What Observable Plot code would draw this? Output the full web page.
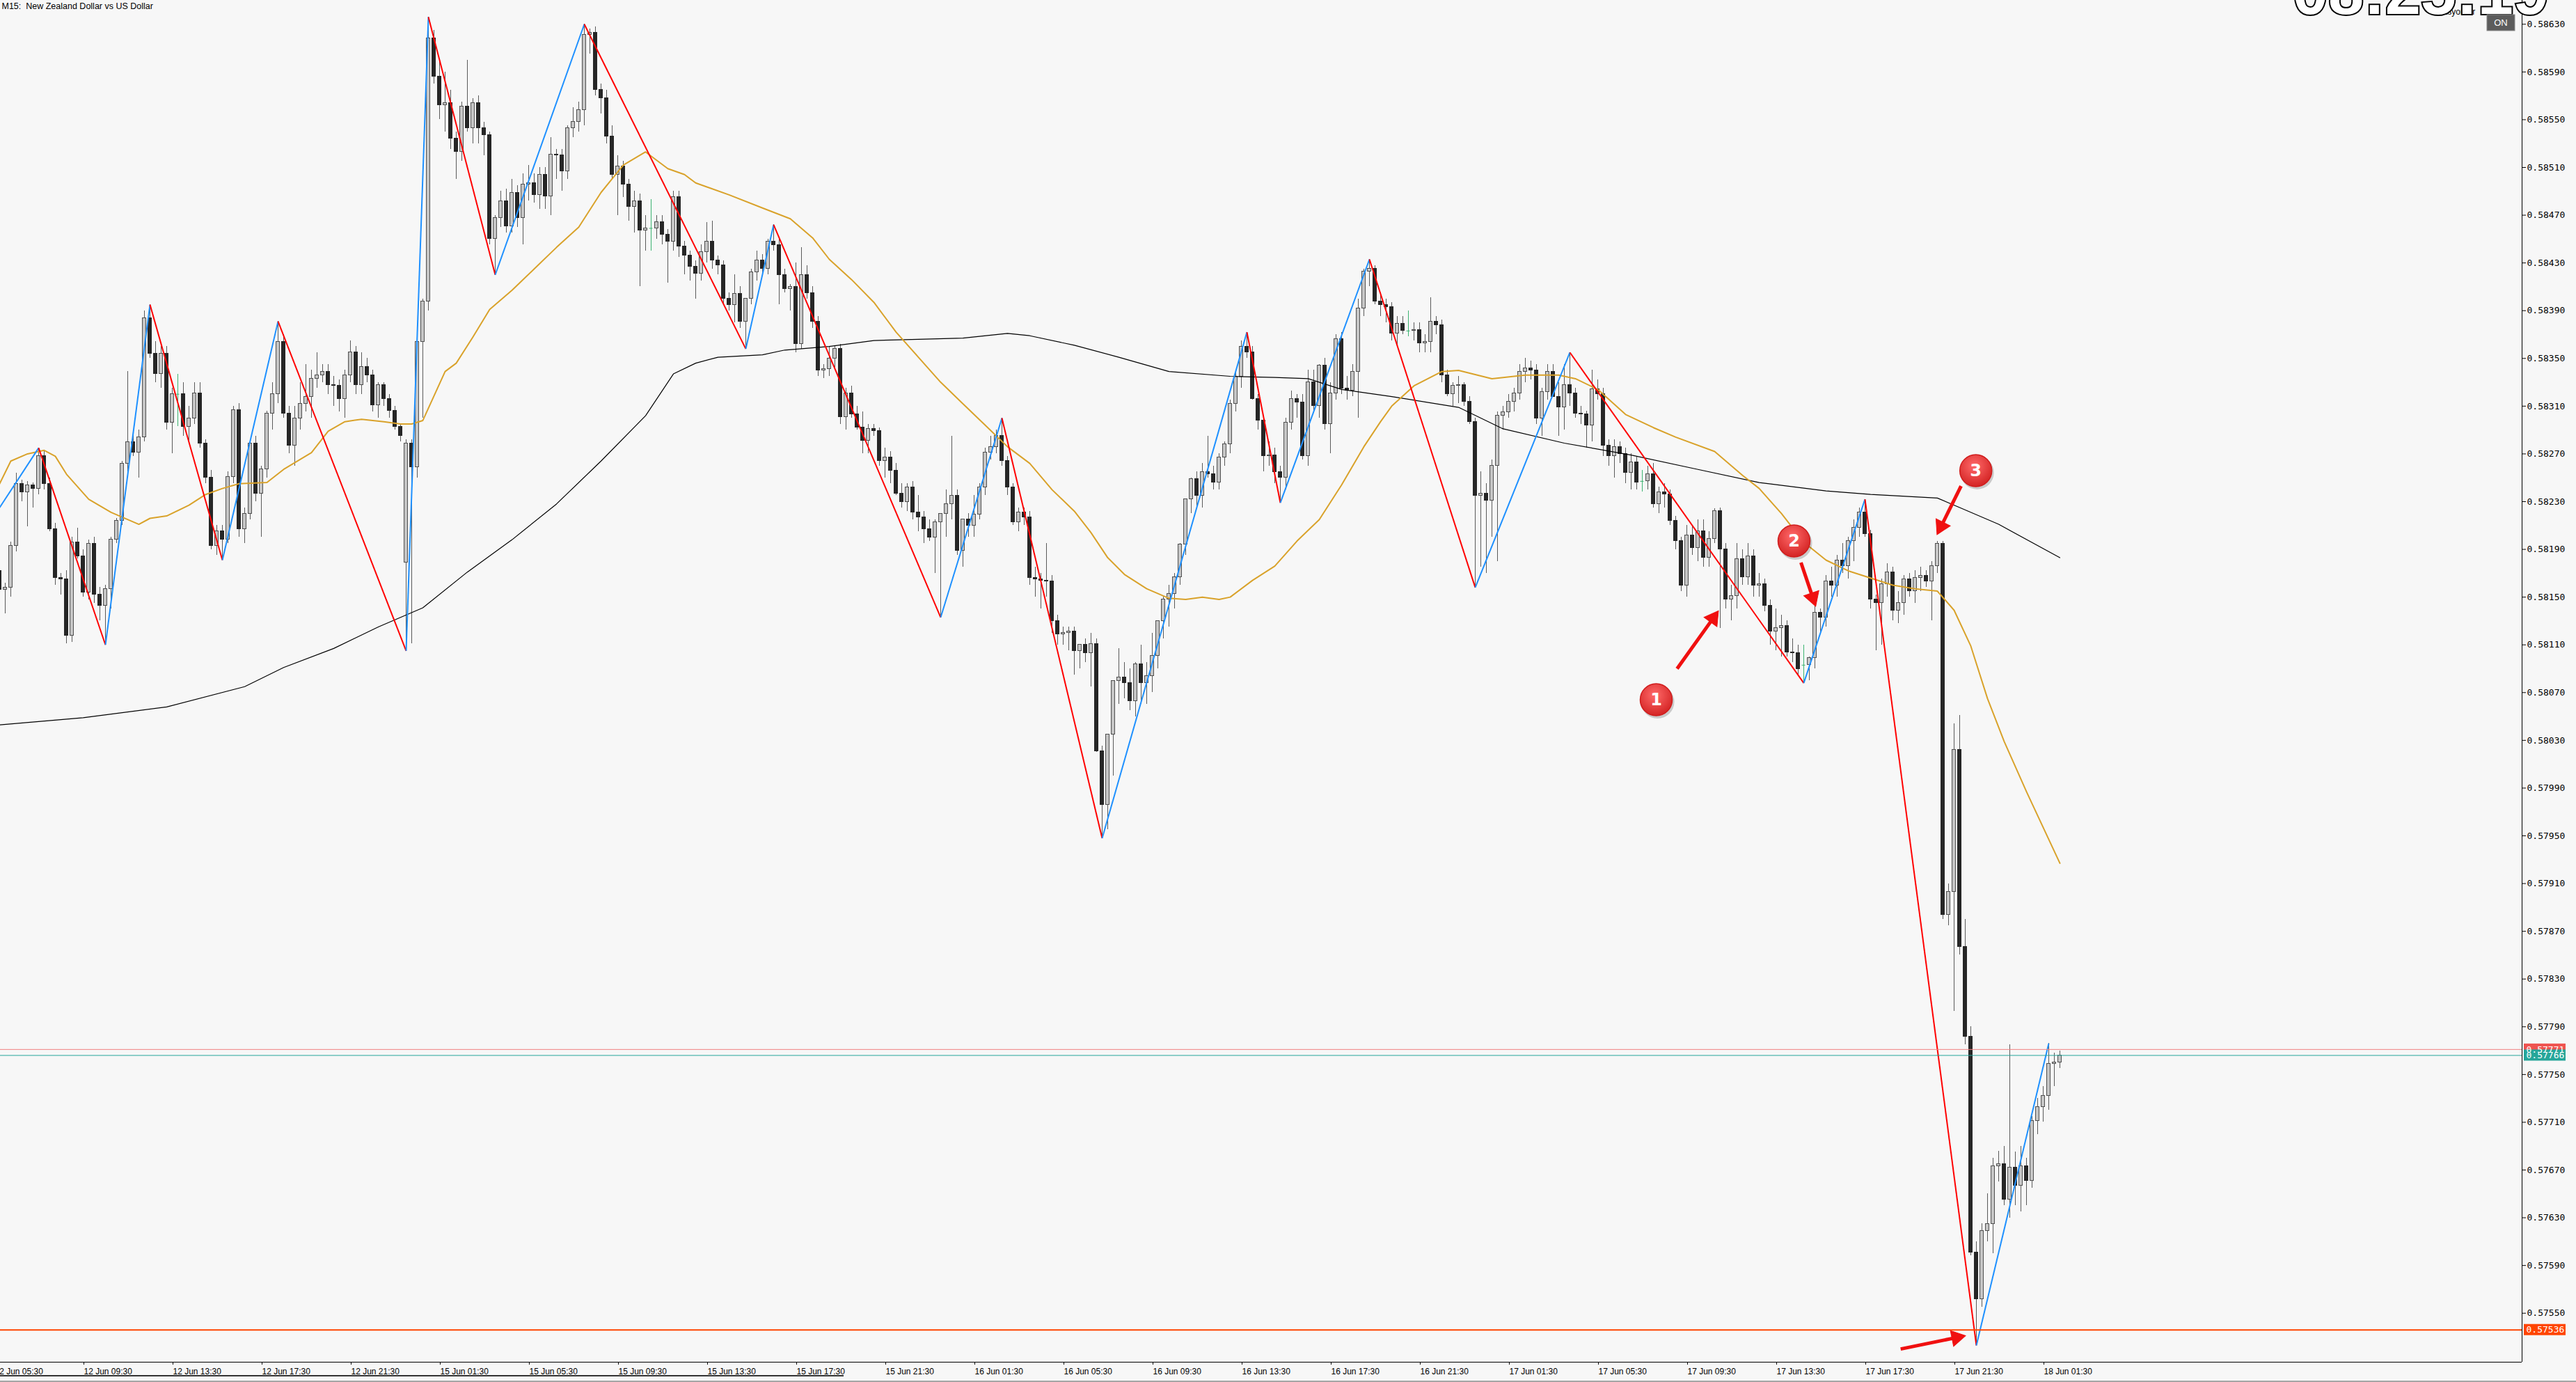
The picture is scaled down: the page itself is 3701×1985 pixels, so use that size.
<!DOCTYPE html>
<html><head><meta charset="utf-8">
<script src="https://cdn.jsdelivr.net/npm/d3@7"></script>
<script src="https://cdn.jsdelivr.net/npm/@observablehq/plot@0.6"></script>
<style>html,body{margin:0;padding:0;background:#f7f7f7;overflow:hidden}</style>
</head><body><div id="chart"></div>
<script>
const title = "M15:  New Zealand Dollar vs US Dollar";
// prices in points (1e-5), one entry per 15-minute bar, bar 0 = 12 Jun 05:45
const opens = [
58172,58156,58158,58193,58245,58238,58244,58241,58268,58245,
58207,58166,58165,58118,58196,58184,58154,58195,58152,58143,
58157,58198,58214,58262,58280,58271,58284,58384,58354,58337,
58354,58296,58320,58320,58293,58300,58321,58279,58250,58193,
58205,58198,58251,58307,58207,58220,58279,58237,58257,58304,
58320,58364,58304,58277,58300,58312,58318,58333,58336,58339,
58328,58327,58316,58336,58355,58328,58343,58336,58311,58328,
58316,58306,58293,58179,58279,58259,58364,58398,58618,58586,
58562,58564,58534,58523,58561,58543,58564,58543,58537,58450,
58468,58482,58461,58489,58468,58496,58497,58487,58504,58486,
58521,58520,58507,58543,58548,58558,58621,58623,58575,58568,
58536,58504,58511,58496,58477,58482,58457,58459,58459,58464,
58454,58448,58485,58444,58436,58427,58421,58439,58448,58432,
58428,58400,58395,58404,58381,58400,58422,58432,58425,58448,
58445,58420,58408,58410,58362,58420,58405,58381,58340,58341,
58350,58358,58301,58321,58303,58292,58281,58291,58289,58264,
58267,58256,58237,58230,58242,58221,58217,58207,58200,58213,
58220,58228,58235,58189,58215,58210,58219,58242,58271,58276,
58285,58264,58242,58213,58221,58217,58166,58165,58164,58163,
58130,58119,58120,58121,58105,58110,58103,58111,58021,57976,
58035,58080,58083,58078,58063,58094,58078,58084,58101,58130,
58148,58153,58167,58194,58232,58249,58235,58255,58253,58246,
58267,58278,58312,58335,58360,58355,58316,58298,58268,58269,
58255,58250,58296,58316,58313,58268,58330,58310,58344,58295,
58321,58366,58325,58323,58339,58392,58423,58425,58398,58395,
58393,58371,58379,58373,58373,58374,58363,58364,58381,58378,
58336,58320,58327,58328,58314,58297,58235,58237,58231,58260,
58302,58305,58314,58321,58339,58342,58340,58300,58322,58339,
58318,58309,58328,58321,58304,58303,58294,58324,58320,58277,
58268,58276,58270,58254,58263,58247,58247,58253,58228,58238,
58236,58214,58197,58160,58202,58191,58205,58183,58199,58222,
58190,58148,58151,58182,58167,58184,58160,58161,58143,58121,
58124,58126,58104,58103,58093,58093,58099,58137,58133,58163,
58160,58181,58176,58197,58208,58221,58203,58148,58145,58161,
58171,58139,58145,58165,58155,58166,58168,58163,58176,58195,
57884,57903,58022,57857,57782,57601,57562,57619,57625,57673,
57675,57645,57672,57657,57673,57661,57711,57723,57732,57759,
57760];
const highs = [
58178,58162,58196,58254,58248,58247,58246,58275,58272,58250,
58212,58170,58172,58200,58208,58190,58198,58200,58158,58160,
58200,58216,58264,58339,58290,58290,58390,58395,58364,58360,
58360,58325,58337,58330,58310,58330,58330,58282,58256,58210,
58210,58255,58310,58312,58225,58282,58285,58260,58306,58330,
58381,58370,58310,58310,58330,58345,58340,58355,58345,58345,
58335,58332,58340,58365,58360,58355,58350,58340,58330,58330,
58320,58310,58295,58282,58282,58368,58400,58636,58625,58600,
58590,58575,58540,58565,58600,58568,58570,58548,58540,58470,
58490,58492,58500,58495,58505,58512,58505,58510,58510,58535,
58525,58525,58545,58560,58565,58630,58626,58628,58580,58575,
58545,58520,58515,58500,58490,58488,58470,58483,58470,58470,
58458,58490,58490,58448,58440,58432,58445,58464,58465,58436,
58432,58405,58420,58410,58400,58425,58440,58437,58450,58462,
58450,58425,58412,58430,58443,58428,58410,58385,58345,58360,
58360,58362,58325,58327,58310,58305,58295,58295,58292,58275,
58272,58262,58245,58245,58247,58235,58222,58215,58215,58220,
58240,58285,58240,58215,58220,58235,58245,58275,58285,58290,
58300,58268,58245,58225,58225,58222,58175,58170,58195,58168,
58135,58125,58125,58125,58110,58115,58120,58115,58025,58035,
58080,58107,58095,58090,58095,58110,58095,58120,58130,58150,
58160,58170,58195,58232,58250,58255,58262,58285,58260,58270,
58280,58315,58340,58365,58372,58360,58320,58302,58280,58275,
58260,58300,58323,58320,58320,58340,58340,58345,58350,58330,
58370,58372,58335,58345,58400,58425,58433,58428,58405,58400,
58397,58385,58385,58390,58380,58380,58370,58401,58385,58382,
58340,58330,58335,58330,58318,58300,58255,58245,58265,58305,
58310,58320,58325,58345,58350,58348,58345,58325,58345,58345,
58330,58345,58355,58325,58310,58306,58340,58332,58325,58282,
58282,58280,58275,58270,58268,58256,58260,58262,58242,58245,
58240,58218,58200,58210,58210,58215,58215,58205,58224,58225,
58195,58160,58195,58190,58195,58190,58170,58165,58148,58140,
58135,58130,58115,58110,58110,58100,58143,58140,58168,58175,
58185,58195,58200,58215,58225,58232,58206,58152,58165,58178,
58175,58155,58168,58170,58172,58175,58172,58180,58197,58197,
57910,58044,58051,57880,57790,57610,57625,57650,57680,57686,
57690,57775,57685,57690,57680,57715,57730,57740,57776,57768,
57770];
const lows = [
58150,58136,58150,58188,58230,58209,58225,58236,58240,58205,
58160,58152,58111,58112,58182,58150,58148,58145,58130,58110,
58140,58195,58210,58255,58268,58250,58280,58350,58330,58325,
58290,58270,58293,58285,58280,58295,58275,58245,58190,58185,
58181,58195,58245,58200,58195,58215,58230,58200,58250,58290,
58312,58300,58270,58260,58290,58305,58300,58325,58330,58320,
58310,58305,58300,58330,58320,58320,58330,58305,58300,58310,
58300,58290,58280,58105,58111,58250,58300,58390,58580,58550,
58540,58525,58500,58515,58540,58530,58530,58520,58445,58420,
58460,58455,58455,58460,58445,58482,58480,58475,58475,58470,
58500,58490,58500,58535,58540,58545,58605,58570,58555,58530,
58500,58470,58485,58465,58455,58410,58440,58440,58450,58445,
58413,58440,58435,58420,58415,58400,58415,58430,58425,58420,
58395,58390,58380,58375,58358,58395,58415,58420,58420,58440,
58395,58405,58390,58355,58358,58400,58375,58335,58333,58335,
58340,58295,58290,58300,58290,58270,58270,58285,58260,58250,
58245,58235,58225,58222,58215,58205,58195,58197,58170,58133,
58200,58215,58185,58175,58200,58200,58215,58235,58265,58270,
58260,58235,58210,58205,58210,58160,58150,58140,58150,58120,
58110,58110,58105,58085,58090,58095,58075,58020,57948,57955,
58000,58060,58065,58055,58050,58060,58060,58070,58090,58115,
58125,58140,58160,58185,58220,58225,58225,58250,58240,58240,
58260,58270,58305,58325,58350,58315,58290,58255,58260,58245,
58229,58240,58290,58300,58265,58260,58305,58300,58290,58270,
58315,58320,58315,58318,58300,58385,58410,58395,58385,58380,
58365,58360,58370,58368,58365,58355,58355,58355,58370,58330,
58318,58310,58312,58310,58295,58158,58175,58170,58200,58180,
58290,58300,58305,58315,58330,58332,58295,58285,58315,58318,
58285,58290,58310,58300,58295,58275,58280,58315,58268,58260,
58250,58262,58245,58240,58240,58238,58240,58225,58220,58225,
58210,58190,58155,58150,58185,58180,58175,58175,58195,58124,
58140,58130,58140,58160,58160,58150,58150,58138,58110,58105,
58100,58100,58095,58085,58078,58080,58090,58120,58125,58150,
58150,58170,58165,58180,58200,58200,58140,58105,58110,58150,
58130,58128,58135,58150,58145,58155,58158,58130,58170,57880,
57875,57803,57850,57775,57598,57523,57555,57610,57600,57660,
57640,57630,57640,57635,57640,57655,57700,57710,57720,57740,
57755];
const closes = [
58156,58158,58193,58245,58238,58244,58241,58268,58245,58207,
58166,58165,58118,58196,58184,58154,58195,58152,58143,58157,
58198,58214,58262,58280,58271,58284,58384,58354,58337,58354,
58296,58320,58320,58293,58300,58321,58279,58250,58193,58205,
58198,58251,58307,58207,58220,58279,58237,58257,58304,58320,
58364,58304,58277,58300,58312,58318,58333,58336,58339,58328,
58327,58316,58336,58355,58328,58343,58336,58311,58328,58316,
58306,58293,58285,58279,58259,58364,58398,58618,58586,58562,
58564,58534,58523,58561,58543,58564,58543,58537,58450,58468,
58482,58461,58489,58468,58496,58497,58487,58504,58486,58521,
58520,58507,58543,58548,58558,58621,58623,58575,58568,58536,
58504,58511,58496,58477,58482,58457,58459,58459,58464,58454,
58448,58485,58444,58436,58427,58421,58439,58448,58432,58428,
58400,58395,58404,58381,58400,58422,58432,58425,58448,58445,
58420,58408,58410,58362,58420,58405,58381,58340,58341,58350,
58358,58301,58321,58303,58292,58281,58291,58289,58264,58267,
58256,58237,58230,58242,58221,58217,58207,58200,58213,58220,
58228,58235,58189,58215,58210,58219,58242,58271,58276,58285,
58264,58242,58213,58221,58217,58166,58165,58164,58163,58130,
58119,58120,58121,58105,58110,58103,58111,58021,57976,58035,
58080,58083,58078,58063,58094,58078,58084,58101,58130,58148,
58153,58167,58194,58232,58249,58235,58255,58253,58246,58267,
58278,58312,58335,58360,58355,58316,58298,58268,58269,58255,
58250,58296,58316,58313,58268,58330,58310,58344,58295,58321,
58366,58325,58323,58339,58392,58423,58425,58398,58395,58393,
58371,58379,58373,58373,58374,58363,58364,58381,58378,58336,
58320,58327,58328,58314,58297,58235,58237,58231,58260,58302,
58305,58314,58321,58339,58342,58340,58300,58322,58339,58318,
58309,58328,58321,58304,58303,58294,58324,58320,58277,58268,
58276,58270,58254,58263,58246,58247,58253,58228,58238,58236,
58214,58197,58160,58202,58191,58205,58183,58199,58222,58190,
58148,58151,58182,58167,58184,58160,58161,58143,58121,58124,
58126,58104,58103,58090,58093,58099,58137,58133,58163,58160,
58181,58176,58197,58208,58221,58203,58148,58145,58161,58171,
58139,58145,58165,58155,58166,58168,58163,58176,58195,57884,
57903,58022,57857,57782,57601,57562,57619,57625,57673,57675,
57645,57672,57657,57673,57661,57711,57723,57732,57759,57760,
57766];

// Moving averages: bar index and value
const maFastBars = [0,2,5,8,10,12,16,20,25,27,30,34,37,40,43,48,51,56,59,62,65,69,72,74,76,80,82,85,88,92,96,100,104,108,112,116,120,123,125,131,137,142,146,149,153,157,161,165,169,173,177,181,185,189,193,196,199,202,206,210,213,216,219,221,225,229,233,237,241,245,248,250,254,259,262,268,274,280,283,287,292,297,301,308,313,316,320,324,328,332,336,340,344,348,351,354,357,360,364,370];
const maFastVals = [58245,58264,58270,58273,58268,58253,58232,58221,58211,58216,58218,58227,58236,58241,58245,58246,58257,58271,58289,58297,58299,58297,58295,58295,58298,58339,58346,58368,58391,58407,58425,58443,58460,58489,58512,58523,58509,58504,58497,58487,58476,58467,58451,58433,58416,58397,58372,58351,58330,58312,58294,58276,58262,58240,58222,58204,58183,58169,58157,58149,58148,58150,58148,58150,58164,58176,58197,58215,58244,58276,58297,58310,58327,58339,58340,58333,58336,58336,58333,58324,58303,58292,58284,58272,58252,58241,58220,58196,58181,58172,58166,58160,58157,58155,58139,58109,58065,58029,57987,57927];
const maSlowBars = [0,15,30,44,51,60,68,76,84,92,100,108,116,121,125,129,137,141,149,157,165,173,181,185,193,201,210,221,229,235,241,250,262,270,281,293,305,316,328,336,348,352,359,370];
const maSlowVals = [58043,58049,58058,58075,58091,58107,58125,58141,58171,58198,58228,58264,58302,58337,58346,58351,58353,58357,58360,58365,58366,58367,58371,58369,58361,58351,58339,58335,58334,58333,58324,58318,58309,58291,58279,58269,58257,58246,58239,58236,58233,58225,58211,58183];

// ZigZag pivots
const zigzagBars = [0,7,19,27,40,50,73,77,89,105,134,139,169,180,198,224,230,246,265,282,324,335,355,368];
const zigzagPrices = [58225,58275,58110,58395,58181,58381,58105,58636,58420,58630,58358,58462,58133,58300,57948,58372,58229,58433,58158,58355,58078,58232,57523,57776];

// Axis ticks
const yTicks = [0.57550,0.57590,0.57630,0.57670,0.57710,0.57750,0.57790,0.57830,0.57870,0.57910,0.57950,0.57990,0.58030,0.58070,0.58110,0.58150,0.58190,0.58230,0.58270,0.58310,0.58350,0.58390,0.58430,0.58470,0.58510,0.58550,0.58590,0.58630];
const xTickBars = [-1,15,31,47,63,79,95,111,127,143,159,175,191,207,223,239,255,271,287,303,319,335,351,367];
const xTickLabels = ["12 Jun 05:30","12 Jun 09:30","12 Jun 13:30","12 Jun 17:30","12 Jun 21:30","15 Jun 01:30","15 Jun 05:30","15 Jun 09:30","15 Jun 13:30","15 Jun 17:30","15 Jun 21:30","16 Jun 01:30","16 Jun 05:30","16 Jun 09:30","16 Jun 13:30","16 Jun 17:30","16 Jun 21:30","17 Jun 01:30","17 Jun 05:30","17 Jun 09:30","17 Jun 13:30","17 Jun 17:30","17 Jun 21:30","18 Jun 01:30"];

// Price lines (ask, bid, marked low)
const lineNames = ["ask","bid","low"];
const linePrices = [57771,57766,57536];
const lineColors = ["#f08080","#26a69a","#ff4500"];
const lineLabelColors = ["#ef5350","#26a69a","#ff4500"];
const lineWidths = [1,1,2];

// Annotations: numbered markers and arrows (bar index, price)
const markerLabels = ["1","2","3"];
const markerBars = [297.5,322.25,354.9];
const markerPrices = [58064,58197,58256];
const arrowFromBars = [301.25,323.5,352.25,341.4];
const arrowFromPrices = [58090,58179,58243,57520];
const arrowToBars = [308.6,326.1,348,352.9];
const arrowToPrices = [58138,58143,58203,57531];

const P = 1e5;
const XMIN = 0.125, XMAX = 453;
const YMIN = 0.57509, YMAX = 0.58650;
const W = 3701, H = 1985, MR = 78, MB = 29;
const HW = 0.3125;
const pxBar = (W - MR) / (XMAX - XMIN);
const pxPrice = (H - MB) / (YMAX - YMIN);

const bars = opens.map((o, i) => {
  const c = closes[i];
  return {k: i, o: o / P, c: c / P, h: Math.max(highs[i], o, c) / P, l: Math.min(lows[i], o, c) / P, doji: o === c, bull: c > o};
});
const bodies = bars.filter(d => !d.doji);
const dojis = bars.filter(d => d.doji);
const maFast = maFastBars.map((k, i) => ({k, v: maFastVals[i] / P}));
const maSlow = maSlowBars.map((k, i) => ({k, v: maSlowVals[i] / P}));
const zz = [];
for (let i = 0; i < zigzagBars.length - 1; i++) {
  zz.push({k1: zigzagBars[i], p1: zigzagPrices[i] / P, k2: zigzagBars[i + 1], p2: zigzagPrices[i + 1] / P, up: zigzagPrices[i + 1] > zigzagPrices[i]});
}
const priceLines = lineNames.map((n, i) => ({n, p: linePrices[i] / P, color: lineColors[i], lc: lineLabelColors[i], w: lineWidths[i]}));
const markers = markerLabels.map((t, i) => ({t, k: markerBars[i], p: markerPrices[i] / P}));
// arrows: shaft + filled triangular head oriented along the shaft (screen space)
const HEAD_R = 8.5, HEAD_C = 12, SHAFT_CUT = 14;
const arrows = arrowFromBars.map((k, i) => {
  const k1 = k, p1 = arrowFromPrices[i] / P, k2 = arrowToBars[i], p2 = arrowToPrices[i] / P;
  const dx = (k2 - k1) * pxBar, dy = -(p2 - p1) * pxPrice;
  const len = Math.hypot(dx, dy), ux = dx / len, uy = dy / len;
  return {
    k1, p1, k2, p2,
    ks: k2 - SHAFT_CUT * ux / pxBar, ps: p2 + SHAFT_CUT * uy / pxPrice,
    kh: k2 - HEAD_C * ux / pxBar, ph: p2 + HEAD_C * uy / pxPrice,
    rot: Math.atan2(ux, -uy) * 180 / Math.PI
  };
});
const xLabelMap = new Map(xTickBars.map((b, i) => [b, xTickLabels[i]]));

const svg = Plot.plot({
  width: W, height: H,
  marginLeft: 0, marginRight: MR, marginTop: 0, marginBottom: MB,
  x: {type: "linear", domain: [XMIN, XMAX], axis: null},
  y: {type: "linear", domain: [YMIN, YMAX], axis: null},
  style: {background: "#f7f7f7", fontFamily: "Liberation Sans, sans-serif", fontSize: "12px", color: "#000", overflow: "visible"},
  marks: [
    // candles
    Plot.ruleX(bars, {x: "k", y1: "l", y2: "h", stroke: d => d.doji ? "#3cb371" : "#5a5a5a", strokeWidth: 1, shapeRendering: "crispEdges"}),
    Plot.rect(bodies, {x1: d => d.k - HW, x2: d => d.k + HW, y1: "o", y2: "c",
      fill: d => d.bull ? "#c6c6c6" : "#262626", stroke: d => d.bull ? "#505050" : "#262626", strokeWidth: 1, shapeRendering: "crispEdges"}),
    Plot.ruleY(dojis, {y: "o", x1: d => d.k - HW, x2: d => d.k + HW, stroke: "#3cb371", strokeWidth: 1}),
    // moving averages
    Plot.line(maSlow, {x: "k", y: "v", stroke: "#000", strokeWidth: 1.2}),
    Plot.line(maFast, {x: "k", y: "v", stroke: "#d9a22a", strokeWidth: 2}),
    // zigzag
    Plot.link(zz, {x1: "k1", y1: "p1", x2: "k2", y2: "p2", stroke: d => d.up ? "#1e90ff" : "#ff0000", strokeWidth: 2}),
    // price lines
    Plot.ruleY(priceLines, {y: "p", x1: XMIN, x2: XMAX, stroke: "color", strokeWidth: "w"}),
    // axes lines
    Plot.ruleX([XMAX], {stroke: "#000", strokeWidth: 1}),
    Plot.ruleY([YMIN], {x1: XMIN, x2: XMAX, stroke: "#000", strokeWidth: 1}),
    Plot.axisY(yTicks, {anchor: "right", tickFormat: d => d.toFixed(5), tickSize: 5, tickPadding: 2, fontSize: 13, fontFamily: "DejaVu Sans Mono", fill: "#000", stroke: "#000", label: null}),
    Plot.axisX(xTickBars, {anchor: "bottom", tickFormat: d => xLabelMap.get(d), tickSize: 4, tickPadding: 5, textAnchor: "start", dx: 1, fontSize: 12, fill: "#000", stroke: "#000", label: null}),
    // price labels on axis
    Plot.rect(priceLines, {x1: XMAX, x2: XMAX, y1: "p", y2: "p", insetLeft: 3, insetRight: -63, insetTop: -8, insetBottom: -8, fill: "lc"}),
    Plot.text(priceLines, {x: XMAX, y: "p", text: d => d.p.toFixed(5), dx: 6, textAnchor: "start", fill: "#fff", fontSize: 13, fontFamily: "DejaVu Sans Mono"}),
    // annotations
    Plot.link(arrows, {x1: "k1", y1: "p1", x2: "ks", y2: "ps", stroke: "#f01010", strokeWidth: 5}),
    Plot.dot(arrows, {x: "kh", y: "ph", symbol: "triangle", r: HEAD_R, rotate: "rot", fill: "#f01010", stroke: "#f01010", strokeWidth: 1}),
    Plot.dot(markers, {x: "k", y: "p", r: 24, dx: 2, dy: 3, fill: "rgba(0,0,0,0.18)"}),
    Plot.dot(markers, {x: "k", y: "p", r: 23, fill: "url(#mkgrad)", stroke: "#d01c1c", strokeWidth: 1.5}),
    Plot.text(markers, {x: "k", y: "p", text: "t", fill: "#fff", fontSize: 24, fontWeight: "bold", fontFamily: "DejaVu Sans"}),
    // title
    Plot.text([title], {frameAnchor: "top-left", dx: 2, dy: 4, lineAnchor: "top", textAnchor: "start", fontSize: 12.5, fill: "#000", fontFamily: "Liberation Sans"})
  ]
});

// gradient for the numbered markers
const s = d3.select(svg);
const defs = s.insert("defs", ":first-child");
const g = defs.append("radialGradient").attr("id", "mkgrad").attr("cx", "45%").attr("cy", "35%").attr("r", "65%");
g.append("stop").attr("offset", "0%").attr("stop-color", "#ff6a6a");
g.append("stop").attr("offset", "100%").attr("stop-color", "#d42424");

// terminal decorations (clock, Easyorder button, bottom bar)
s.append("text").attr("x", 3529).attr("y", 21).attr("font-size", 12).attr("font-family", "Liberation Sans").attr("fill", "#000").text("Easyorder");
s.append("text").attr("x", 3662).attr("y", 20).attr("text-anchor", "end").attr("font-size", 92).attr("font-weight", "bold")
  .attr("font-family", "Liberation Sans").attr("fill", "#fff").attr("stroke", "#000").attr("stroke-width", 4).attr("paint-order", "stroke").text("08:25:19");
s.append("rect").attr("x", 3573).attr("y", 21).attr("width", 40).attr("height", 23).attr("fill", "#5c5c5c").attr("stroke", "#8a8a8a");
s.append("text").attr("x", 3593).attr("y", 37).attr("text-anchor", "middle").attr("font-size", 13).attr("font-family", "Liberation Sans").attr("fill", "#fff").text("ON");
s.append("line").attr("x1", 0).attr("x2", 1212).attr("y1", 1976).attr("y2", 1976).attr("stroke", "#333").attr("stroke-width", 2);
s.append("line").attr("x1", 0).attr("x2", 3701).attr("y1", 1984).attr("y2", 1984).attr("stroke", "#555").attr("stroke-width", 1);
document.getElementById("chart").appendChild(svg);
</script>
</body></html>
